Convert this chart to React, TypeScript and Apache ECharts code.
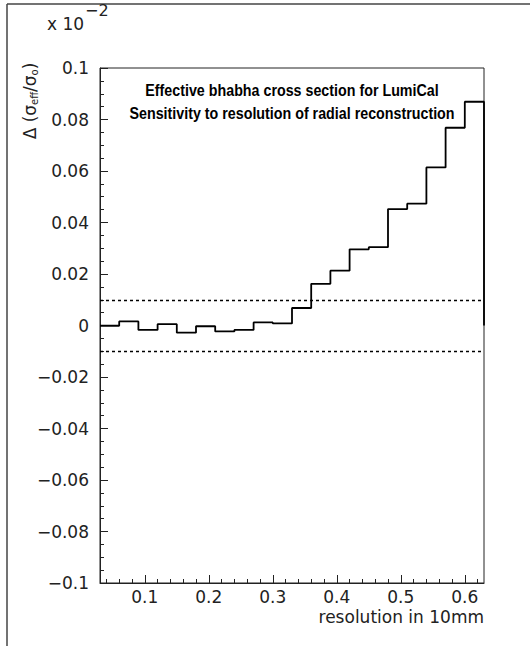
import React, { useEffect, useRef } from 'react';
import * as echarts from 'echarts';

const binEdges = [0.03, 0.06, 0.09, 0.12, 0.15, 0.18, 0.21, 0.24, 0.27, 0.30, 0.33, 0.36, 0.39, 0.42, 0.45, 0.48, 0.51, 0.54, 0.57, 0.60, 0.63];
const binValues = [-0.0001, 0.0016, -0.0017, 0.0005, -0.0028, -0.0003, -0.0023, -0.0017, 0.0012, 0.0008, 0.0068, 0.0162, 0.0213, 0.0296, 0.0304, 0.0452, 0.0473, 0.0614, 0.0768, 0.0869];
const xMajorTicks = [0.1, 0.2, 0.3, 0.4, 0.5, 0.6];
const xMinorTicks = [0.04, 0.06, 0.08, 0.12, 0.14, 0.16, 0.18, 0.22, 0.24, 0.26, 0.28, 0.32, 0.34, 0.36, 0.38, 0.42, 0.44, 0.46, 0.48, 0.52, 0.54, 0.56, 0.58, 0.62];
const bandLimits = [0.01, -0.01];
const titleLines = ['Effective bhabha cross section for LumiCal', 'Sensitivity to resolution of radial reconstruction'];
const xTitle = 'resolution in 10mm';

const FONT = "'DejaVu Sans', sans-serif";

function fmt(v: number): string {
  const r = Math.round(v * 1000) / 1000;
  if (r === 0) return '0';
  return r < 0 ? '\u2212' + String(-r) : String(r);
}

export default function App() {
  const ref = useRef<HTMLDivElement>(null);
  useEffect(() => {
    if (!ref.current) return;
    const chart = echarts.init(ref.current, undefined, { renderer: 'svg' });
    const histData: [number, number][] = binValues.map((v, i) => [binEdges[i], v] as [number, number]);
    histData.push([binEdges[binEdges.length - 1], 0]);
    const xMin = binEdges[0];
    const xMax = binEdges[binEdges.length - 1];
    chart.setOption({
      animation: false,
      backgroundColor: '#fff',
      grid: { left: 100, top: 68, width: 384, height: 515, show: true, borderColor: '#222', borderWidth: 1, backgroundColor: 'transparent' },
      xAxis: [
        {
          type: 'value', min: xMin, max: xMax, gridIndex: 0, position: 'bottom',
          axisLine: { show: true, onZero: false, lineStyle: { color: '#222', width: 1 } },
          axisTick: { show: true, inside: true, length: 8, customValues: xMajorTicks, lineStyle: { color: '#222' } },
          axisLabel: { show: true, customValues: xMajorTicks, margin: 5, fontFamily: FONT, fontSize: 17, color: '#222', formatter: (v: number) => fmt(v) },
          splitLine: { show: false },
        },
        {
          type: 'value', min: xMin, max: xMax, gridIndex: 0, position: 'bottom',
          axisLine: { show: false, onZero: false },
          axisTick: { show: true, inside: true, length: 4, customValues: xMinorTicks, lineStyle: { color: '#222' } },
          axisLabel: { show: false },
          splitLine: { show: false },
        },
      ],
      yAxis: {
        type: 'value', min: -0.1, max: 0.1, interval: 0.02, position: 'left',
        axisLine: { show: true, onZero: false, lineStyle: { color: '#222', width: 1 } },
        axisTick: { show: true, inside: true, length: 8, lineStyle: { color: '#222' } },
        minorTick: { show: true, splitNumber: 4, length: 4, lineStyle: { color: '#222' } },
        axisLabel: { margin: 11, fontFamily: FONT, fontSize: 17, color: '#222', formatter: (v: number) => fmt(v) },
        splitLine: { show: false },
      },
      series: [
        {
          type: 'line', xAxisIndex: 0, yAxisIndex: 0, step: 'end', data: histData, symbol: 'none',
          lineStyle: { color: '#000', width: 1.8 },
          markLine: {
            silent: true, symbol: 'none', label: { show: false },
            lineStyle: { color: '#000', width: 1.4, type: [3, 3] },
            data: bandLimits.map((b) => ({ yAxis: b })),
          },
        },
      ],
      graphic: [
        { type: 'line', shape: { x1: 7, y1: 4, x2: 530, y2: 4 }, style: { stroke: '#444', lineWidth: 1.5 } },
        { type: 'line', shape: { x1: 7, y1: 4, x2: 7, y2: 646 }, style: { stroke: '#444', lineWidth: 1.5 } },
        { type: 'text', x: 47, y: 32, style: { text: 'x 10', fontFamily: FONT, fontSize: 17, fill: '#222', textVerticalAlign: 'bottom' } },
        { type: 'text', x: 85, y: 18, style: { text: '\u22122', fontFamily: FONT, fontSize: 16, fill: '#222', textVerticalAlign: 'bottom' } },
        {
          type: 'text', x: 30, y: 101, rotation: Math.PI / 2,
          style: {
            text: '{a|\u0394 (\u03c3}{s|eff}{a|/\u03c3}{s|o}{a|)}',
            textAlign: 'center', textVerticalAlign: 'middle', fill: '#222',
            rich: {
              a: { fontFamily: FONT, fontSize: 17, fill: '#222' },
              s: { fontFamily: FONT, fontSize: 10, fill: '#222', verticalAlign: 'bottom', padding: [8, 0, 0, 0] },
            },
          },
        },
        { type: 'text', x: 292, y: 90, scaleX: 0.84, style: { text: titleLines[0], fontFamily: "'Liberation Sans', Arial, sans-serif", fontWeight: 'bold', fontSize: 17, fill: '#000', textAlign: 'center', textVerticalAlign: 'middle' } },
        { type: 'text', x: 292, y: 113, scaleX: 0.84, style: { text: titleLines[1], fontFamily: "'Liberation Sans', Arial, sans-serif", fontWeight: 'bold', fontSize: 17, fill: '#000', textAlign: 'center', textVerticalAlign: 'middle' } },
        { type: 'text', x: 484, y: 617, style: { text: xTitle, fontFamily: FONT, fontSize: 17, fill: '#222', textAlign: 'right', textVerticalAlign: 'middle' } },
      ],
    });
    return () => chart.dispose();
  }, []);
  return <div ref={ref} style={{ position: 'fixed', left: 0, top: 0, width: 530, height: 646 }} />;
}
